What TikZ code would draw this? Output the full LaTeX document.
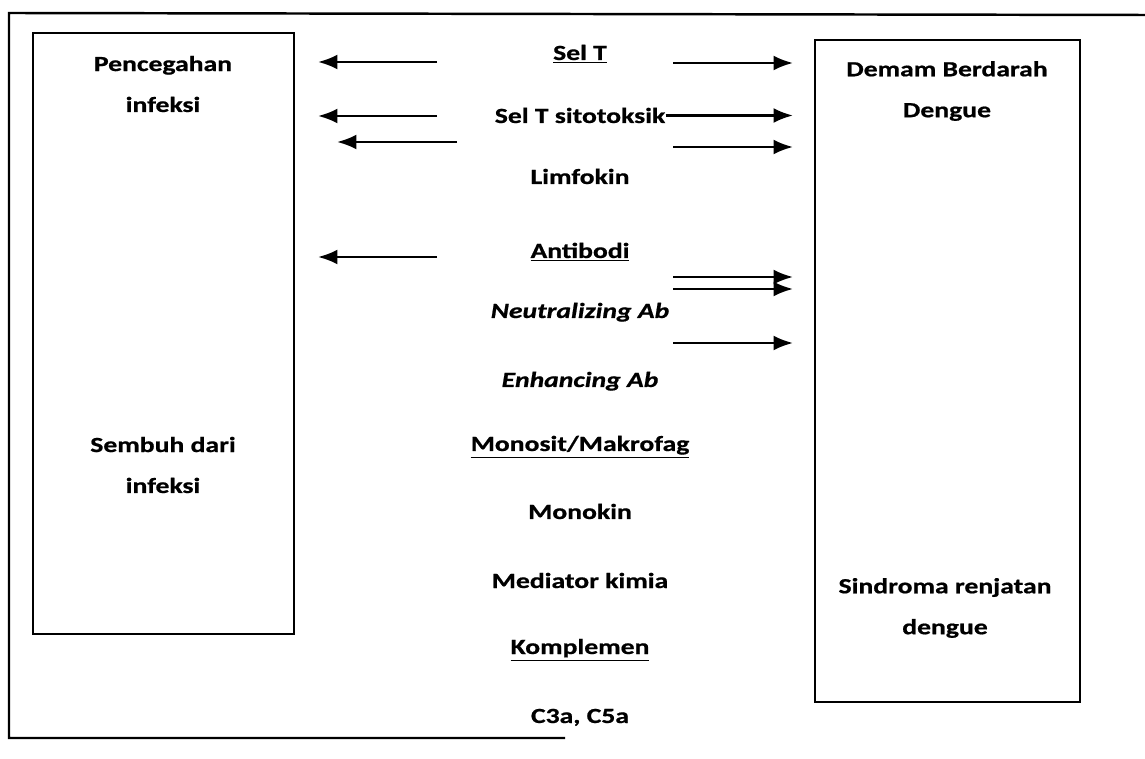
\documentclass[tikz,border=0pt]{standalone}
\usepackage{fontspec}
\setmainfont{Carlito}[FakeStretch=1.28, FakeBold=0.8]
\usetikzlibrary{arrows.meta}
\tikzset{
  txt/.style={font=\fontsize{12.3}{23.3}\selectfont\bfseries, inner sep=0pt, align=center},
  frame/.style={line width=1.4pt},
  arr/.style={line width=1.5pt, -{Latex[length=11pt,width=8.5pt]}},
}

\begin{document}
\begin{tikzpicture}[x=0.02cm, y=-0.02cm]
		%%%%% START %%%%%
		\useasboundingbox (0,0) rectangle (1145,759);
		
		\draw[frame] (1145,15) -- (9,13) -- (9,738) -- (565,738);
		
		\draw[frame] (33,33) rectangle (294,634);
		\node[txt] (prev) at (163,84) {Pencegahan\\infeksi};
		\node[txt] (heal) at (163,465) {Sembuh dari\\infeksi};
		
		\draw[frame] (815,40) rectangle (1080,702);
		\node[txt] (dbd) at (947,91) {Demam Berdarah\\Dengue};
		\node[txt] (dss) at (945,608) {Sindroma renjatan\\dengue};
		
		\node[txt, anchor=base] (selt) at (580,60) {\underline{Sel T}};
		\node[txt, anchor=base] (ctl) at (580,123) {Sel T sitotoksik};
		\node[txt, anchor=base] (limf) at (580,184) {Limfokin};
		\node[txt, anchor=base] (ab) at (580,258) {\underline{Antibodi}};
		\node[txt, anchor=base] (nab) at (580,318) {\itshape Neutralizing Ab};
		\node[txt, anchor=base] (eab) at (580,387) {\itshape Enhancing Ab};
		\node[txt, anchor=base] (mono) at (580,451) {\underline{Monosit/Makrofag}};
		\node[txt, anchor=base] (monok) at (580,519) {Monokin};
		\node[txt, anchor=base] (medi) at (580,588) {Mediator kimia};
		\node[txt, anchor=base] (komp) at (580,654) {\underline{Komplemen}};
		\node[txt, anchor=base] (c3) at (580,723) {C3a, C5a};
		
		% arrows to the left
		\coordinate (l1a) at (437,62);  \coordinate (l1b) at (318,62);
		\coordinate (l2a) at (437,116); \coordinate (l2b) at (318,116);
		\coordinate (l3a) at (457,142); \coordinate (l3b) at (337,142);
		\coordinate (l4a) at (437,257); \coordinate (l4b) at (318,257);
		\draw[arr] (l1a) -- (l1b);
		\draw[arr] (l2a) -- (l2b);
		\draw[arr] (l3a) -- (l3b);
		\draw[arr] (l4a) -- (l4b);
		
		% arrows to the right
		\coordinate (r1a) at (673,63);  \coordinate (r1b) at (793,63);
		\coordinate (r2b) at (793,118);
		\coordinate (r3a) at (673,147); \coordinate (r3b) at (793,147);
		\coordinate (r4a) at (673,277); \coordinate (r4b) at (793,277);
		\coordinate (r5a) at (673,289); \coordinate (r5b) at (793,289);
		\coordinate (r6a) at (673,343); \coordinate (r6b) at (793,343);
		\draw[arr] (r1a) -- (r1b);
		\draw[arr] (ctl.east) -- (ctl.east -| r2b);
		\draw[arr] (r3a) -- (r3b);
		\draw[arr] (r4a) -- (r4b);
		\draw[arr] (r5a) -- (r5b);
		\draw[arr] (r6a) -- (r6b);
		
		%%%%% END %%%%%
\end{tikzpicture}
\end{document}
